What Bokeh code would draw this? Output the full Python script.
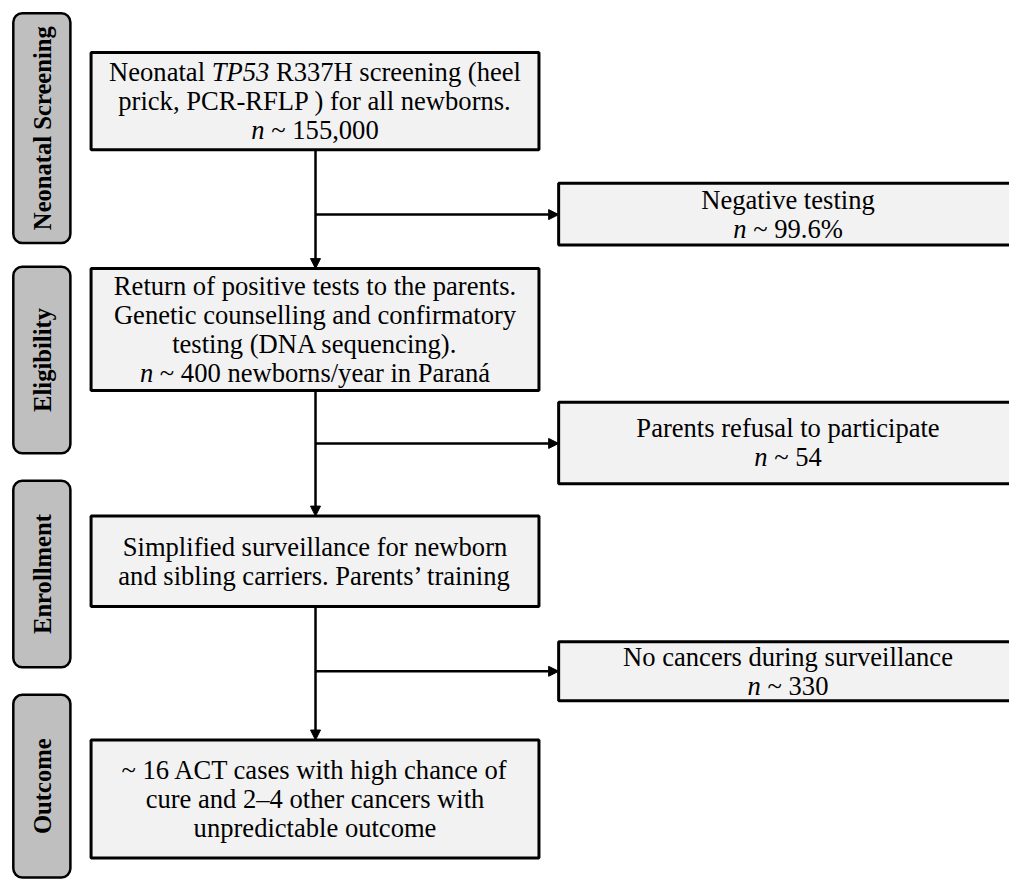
import glob
import math
import struct

from bokeh.core.properties import value
from bokeh.embed import file_html
from bokeh.models import Arrow, ColumnDataSource, NormalHead, Range1d
from bokeh.plotting import figure
from bokeh.resources import INLINE

# ---------------- data (texts of the flow chart) ----------------
stage_labels = ["Neonatal Screening", "Eligibility", "Enrollment", "Outcome"]

main_box_lines = [
    [[("Neonatal ", "normal"), ("TP53", "italic"), (" R337H screening (heel", "normal")],
     [("prick, PCR-RFLP ) for all newborns.", "normal")],
     [("n", "italic"), (" ~ 155,000", "normal")]],
    [[("Return of positive tests to the parents.", "normal")],
     [("Genetic counselling and confirmatory", "normal")],
     [("testing (DNA sequencing).", "normal")],
     [("n", "italic"), (" ~ 400 newborns/year in Paraná", "normal")]],
    [[("Simplified surveillance for newborn", "normal")],
     [("and sibling carriers. Parents’ training", "normal")]],
    [[("~ 16 ACT cases with high chance of", "normal")],
     [("cure and 2–4 other cancers with", "normal")],
     [("unpredictable outcome", "normal")]],
]

side_box_lines = [
    [[("Negative testing", "normal")], [("n", "italic"), (" ~ 99.6%", "normal")]],
    [[("Parents refusal to participate", "normal")], [("n", "italic"), (" ~ 54", "normal")]],
    [[("No cancers during surveillance", "normal")], [("n", "italic"), (" ~ 330", "normal")]],
]

# ---------------- layout (reference pixel coordinates, y downwards) ----------------
stage_top = [13, 271, 489, 707]
stage_bottom = [247, 461, 679, 893]
stage_left, stage_right = 13, 71

main_top = [53, 273, 525, 753]
main_bottom = [152, 397, 617, 873]
main_left, main_right = 92, 547
flow_x = 320

side_top = [186, 409, 653]
side_bottom = [249, 492, 713]
side_left, side_right = 567, 1040
side_cx = 800
branch_y = [218, 451, 683]

W, H = 1009, 879
SCALE = W / 1025.0
FONT = "Liberation Serif"
SIZE = 27.0 * SCALE
LINE_H = 29.5
LABEL_SIZE = 25.0 * SCALE

# ---------------- text width measurement from the installed TTF ----------------
def _load_width_fn(pattern):
    paths = glob.glob("/usr/share/fonts/**/" + pattern, recursive=True)
    if not paths:
        return None
    try:
        data = open(paths[0], "rb").read()
        num_tables = struct.unpack(">H", data[4:6])[0]
        tables = {}
        for i in range(num_tables):
            tag, _cs, off, ln = struct.unpack(">4sIII", data[12 + 16 * i:28 + 16 * i])
            tables[tag.decode("latin1")] = off
        head = tables["head"]
        upem = struct.unpack(">H", data[head + 18:head + 20])[0]
        hhea = tables["hhea"]
        num_h = struct.unpack(">H", data[hhea + 34:hhea + 36])[0]
        hmtx = tables["hmtx"]
        adv = [struct.unpack(">H", data[hmtx + 4 * i:hmtx + 4 * i + 2])[0] for i in range(num_h)]
        cmap = tables["cmap"]
        n = struct.unpack(">H", data[cmap + 2:cmap + 4])[0]
        sub = None
        for i in range(n):
            pid, eid, off = struct.unpack(">HHI", data[cmap + 4 + 8 * i:cmap + 12 + 8 * i])
            fmt = struct.unpack(">H", data[cmap + off:cmap + off + 2])[0]
            if pid == 3 and eid == 1 and fmt == 4:
                sub = cmap + off
        if sub is None:
            return None
        seg_x2 = struct.unpack(">H", data[sub + 6:sub + 8])[0]
        segs = seg_x2 // 2
        ends = struct.unpack(">%dH" % segs, data[sub + 14:sub + 14 + seg_x2])
        starts = struct.unpack(">%dH" % segs, data[sub + 16 + seg_x2:sub + 16 + 2 * seg_x2])
        deltas = struct.unpack(">%dh" % segs, data[sub + 16 + 2 * seg_x2:sub + 16 + 3 * seg_x2])
        roff_pos = sub + 16 + 3 * seg_x2
        roffs = struct.unpack(">%dH" % segs, data[roff_pos:roff_pos + seg_x2])

        def gid(c):
            for i in range(segs):
                if ends[i] >= c:
                    if starts[i] > c:
                        return 0
                    if roffs[i] == 0:
                        return (c + deltas[i]) & 0xFFFF
                    addr = roff_pos + 2 * i + roffs[i] + 2 * (c - starts[i])
                    g = struct.unpack(">H", data[addr:addr + 2])[0]
                    return (g + deltas[i]) & 0xFFFF if g else 0
            return 0

        def width(s, size):
            tot = 0
            for ch in s:
                g = gid(ord(ch))
                tot += adv[min(g, num_h - 1)]
            return tot * size / upem

        return width
    except Exception:
        return None


_w_regular = _load_width_fn("LiberationSerif-Regular.ttf")
_w_italic = _load_width_fn("LiberationSerif-Italic.ttf")


def text_width(s, style, size=SIZE):
    fn = _w_italic if style == "italic" else _w_regular
    if fn is None:
        return len(s) * 0.46 * size
    return fn(s, size)


# ---------------- figure ----------------
p = figure(width=W, height=H, x_range=Range1d(0, 1025), y_range=Range1d(895, 0),
           output_backend="svg", toolbar_location=None, min_border=0,
           x_axis_type=None, y_axis_type=None)
p.grid.visible = False
p.outline_line_color = None
p.background_fill_color = "white"
p.border_fill_color = "white"

# stage labels (rounded grey boxes)
p.quad(left=[stage_left] * 4, right=[stage_right] * 4, top=stage_top, bottom=stage_bottom,
       fill_color="#bfbfbf", line_color="black", line_width=2.5, border_radius=9)
p.text(x=[(stage_left + stage_right) / 2 + 1] * 4,
       y=[(t + b) / 2 for t, b in zip(stage_top, stage_bottom)],
       text=stage_labels, angle=math.pi / 2, text_align="center", text_baseline="middle",
       text_font=value(FONT), text_font_size=f"{LABEL_SIZE:.2f}px", text_font_style="bold",
       text_color="black")

# arrows
for i in range(3):
    p.add_layout(Arrow(end=NormalHead(size=10, fill_color="black", line_color="black", line_width=1),
                       x_start=flow_x, y_start=main_bottom[i], x_end=flow_x, y_end=main_top[i + 1],
                       line_width=2.5, line_color="black"))
    p.add_layout(Arrow(end=NormalHead(size=10, fill_color="black", line_color="black", line_width=1),
                       x_start=flow_x, y_start=branch_y[i], x_end=side_left, y_end=branch_y[i],
                       line_width=2.5, line_color="black"))

# boxes
p.quad(left=[main_left] * 4, right=[main_right] * 4, top=main_top, bottom=main_bottom,
       fill_color="#f2f2f2", line_color="black", line_width=3)
p.quad(left=[side_left] * 3, right=[side_right] * 3, top=side_top, bottom=side_bottom,
       fill_color="#f2f2f2", line_color="black", line_width=3)

# box texts (widths in data units = pixels / SCALE)
runs = {"normal": dict(x=[], y=[], text=[]), "italic": dict(x=[], y=[], text=[])}


def place_lines(lines, cx, cy):
    n = len(lines)
    for k, segs in enumerate(lines):
        y = cy + (k - (n - 1) / 2) * LINE_H
        total = sum(text_width(t, st) for t, st in segs) / SCALE
        x = cx - total / 2
        for t, st in segs:
            stripped = t.lstrip(" ")
            lead = text_width(t[:len(t) - len(stripped)], st) / SCALE
            runs[st]["x"].append(x + lead)
            runs[st]["y"].append(y)
            runs[st]["text"].append(stripped)
            x += text_width(t, st) / SCALE


for lines, t, b in zip(main_box_lines, main_top, main_bottom):
    place_lines(lines, (main_left + main_right) / 2, (t + b) / 2)
for lines, t, b in zip(side_box_lines, side_top, side_bottom):
    place_lines(lines, side_cx, (t + b) / 2)

for st, d in runs.items():
    p.text(x="x", y="y", text="text", source=ColumnDataSource(d), text_align="left",
           text_baseline="middle", text_font=value(FONT), text_font_size=f"{SIZE:.2f}px",
           text_font_style=st, text_color="black")

open("out.html", "w").write(file_html(p, INLINE))
